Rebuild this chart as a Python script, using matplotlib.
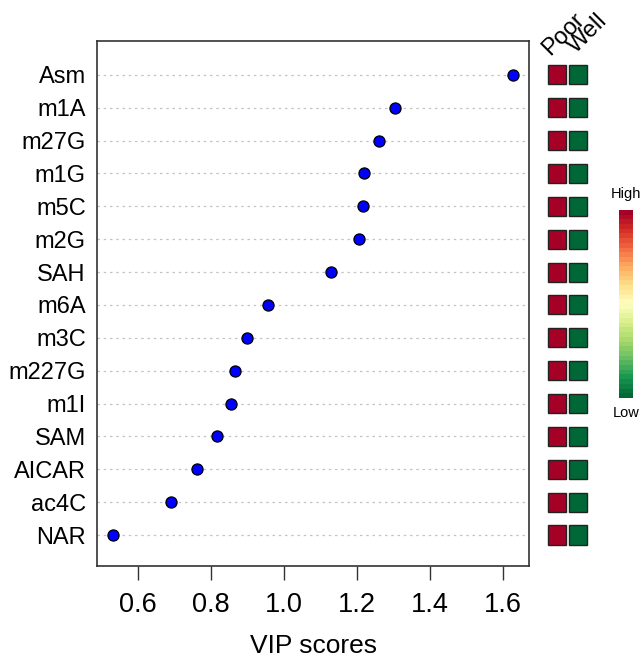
import numpy as np
import matplotlib
matplotlib.use("Agg")
import matplotlib.pyplot as plt
from matplotlib.patches import Rectangle

plt.rcParams['font.family'] = ['Liberation Sans', 'DejaVu Sans']

features = ["Asm", "m1A", "m27G", "m1G", "m5C", "m2G", "SAH", "m6A",
            "m3C", "m227G", "m1I", "SAM", "AICAR", "ac4C", "NAR"]
vip_scores = [1.627, 1.304, 1.260, 1.219, 1.216, 1.205, 1.129, 0.956,
              0.899, 0.866, 0.855, 0.816, 0.762, 0.690, 0.532]
groups = ["Poor", "Well"]
poor_level = [1.0] * 15   # relative abundance (High=1, Low=0)
well_level = [0.0] * 15
xticks = [0.6, 0.8, 1.0, 1.2, 1.4, 1.6]

W, H = 644, 661
fig = plt.figure(figsize=(W / 100, H / 100), dpi=100)

def px_axes(x0, y0, x1, y1):
    return fig.add_axes([x0 / W, 1 - y1 / H, (x1 - x0) / W, (y1 - y0) / H])

n = len(features)
ypos = np.arange(n, 0, -1)
ylim = (0.057, 16.03)

ax = px_axes(97, 41, 529, 566)
for y in ypos:
    ax.axhline(y, color="#C4C4C4", lw=0.9, ls=(0, (2, 3)), zorder=1)
ax.plot(vip_scores, ypos, 'o', ms=8, mfc="#0000FF", mec="black", mew=0.9, zorder=3)
ax.set_xlim(0.488, 1.671)
ax.set_ylim(*ylim)
ax.set_yticks(ypos)
ax.set_yticklabels(features, fontsize=17)
ax.tick_params(axis='y', length=0, pad=8)
ax.set_xticks(xticks)
ax.set_xticklabels([f"{t:.1f}" for t in xticks], fontsize=19.5)
ax.tick_params(axis='x', length=10, width=1, pad=9, direction='out', color="#333333")
for s in ax.spines.values():
    s.set_linewidth(1.2)
    s.set_color("#333333")
ax.set_xlabel("VIP scores", fontsize=19, labelpad=11)

cmap = plt.get_cmap("RdYlGn_r")

hm = px_axes(546.5, 41, 588.5, 566)
hm.set_xlim(-0.5, 1.5)
hm.set_ylim(*ylim)
hm.axis("off")
for j, levels in enumerate([poor_level, well_level]):
    for y, v in zip(ypos, levels):
        hm.add_patch(Rectangle((j - 0.45, y - 0.29), 0.9, 0.58,
                               facecolor=cmap(v), edgecolor="#222222", lw=1))

fig.text(550 / W, 1 - 56 / H, groups[0], rotation=45, fontsize=17,
         ha='left', va='baseline', rotation_mode='anchor')
fig.text(576 / W, 1 - 54 / H, groups[1], rotation=45, fontsize=17,
         ha='left', va='baseline', rotation_mode='anchor')

cb = px_axes(619, 210, 633, 398)
grad = np.linspace(1, 0, 40).reshape(-1, 1)
cb.imshow(grad, aspect='auto', cmap=cmap, interpolation='nearest')
cb.axis("off")
fig.text(626 / W, 1 - 194 / H, "High", fontsize=10.5, ha='center', va='center')
fig.text(626 / W, 1 - 413 / H, "Low", fontsize=10.5, ha='center', va='center')

fig.savefig("out.png", dpi=100)
